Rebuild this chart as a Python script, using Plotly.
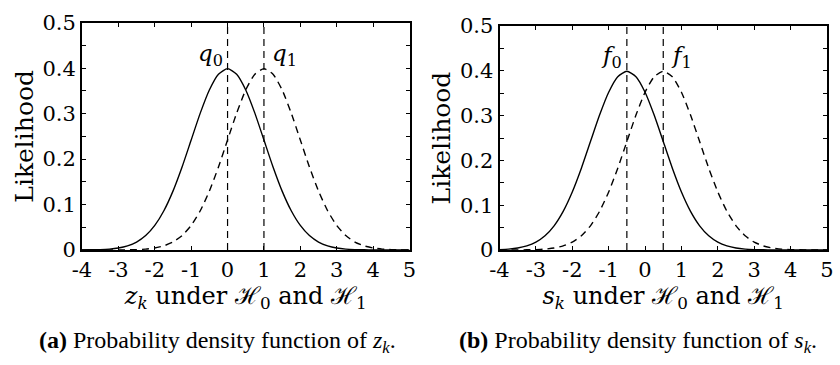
import plotly.graph_objects as go

# ---- data ----
x_grid = [-4.0, -3.75, -3.5, -3.25, -3.0, -2.75, -2.5, -2.25, -2.0, -1.75, -1.5, -1.25,
          -1.0, -0.75, -0.5, -0.25, 0.0, 0.25, 0.5, 0.75, 1.0, 1.25, 1.5, 1.75,
          2.0, 2.25, 2.5, 2.75, 3.0, 3.25, 3.5, 3.75, 4.0, 4.25, 4.5, 4.75, 5.0]

# panel (a): z_k
z_h0 = [0.0001, 0.0004, 0.0009, 0.0020, 0.0044, 0.0091, 0.0175, 0.0317, 0.0540, 0.0863, 0.1295, 0.1826,
        0.2420, 0.3011, 0.3521, 0.3867, 0.3989, 0.3867, 0.3521, 0.3011, 0.2420, 0.1826, 0.1295, 0.0863,
        0.0540, 0.0317, 0.0175, 0.0091, 0.0044, 0.0020, 0.0009, 0.0004, 0.0001, 0.0, 0.0, 0.0, 0.0]
z_h1 = [0.0, 0.0, 0.0, 0.0, 0.0001, 0.0004, 0.0009, 0.0020, 0.0044, 0.0091, 0.0175, 0.0317,
        0.0540, 0.0863, 0.1295, 0.1826, 0.2420, 0.3011, 0.3521, 0.3867, 0.3989, 0.3867, 0.3521, 0.3011,
        0.2420, 0.1826, 0.1295, 0.0863, 0.0540, 0.0317, 0.0175, 0.0091, 0.0044, 0.0020, 0.0009, 0.0004, 0.0001]
q_means = [0.0, 1.0]
q_labels = ["<i>q</i><sub>0</sub>", "<i>q</i><sub>1</sub>"]

# panel (b): s_k
s_h0 = [0.0009, 0.0020, 0.0044, 0.0091, 0.0175, 0.0317, 0.0540, 0.0863, 0.1295, 0.1826, 0.2420, 0.3011,
        0.3521, 0.3867, 0.3989, 0.3867, 0.3521, 0.3011, 0.2420, 0.1826, 0.1295, 0.0863, 0.0540, 0.0317,
        0.0175, 0.0091, 0.0044, 0.0020, 0.0009, 0.0004, 0.0001, 0.0, 0.0, 0.0, 0.0, 0.0, 0.0]
s_h1 = [0.0, 0.0, 0.0001, 0.0004, 0.0009, 0.0020, 0.0044, 0.0091, 0.0175, 0.0317, 0.0540, 0.0863,
        0.1295, 0.1826, 0.2420, 0.3011, 0.3521, 0.3867, 0.3989, 0.3867, 0.3521, 0.3011, 0.2420, 0.1826,
        0.1295, 0.0863, 0.0540, 0.0317, 0.0175, 0.0091, 0.0044, 0.0020, 0.0009, 0.0004, 0.0001, 0.0, 0.0]
f_means = [-0.5, 0.5]
f_labels = ["<i>f</i><sub>0</sub>", "<i>f</i><sub>1</sub>"]

x_ticks = [-4, -3, -2, -1, 0, 1, 2, 3, 4, 5]
x_ticktext = ["-4", "-3", "-2", "-1", "0", "1", "2", "3", "4", "5"]
y_ticks = [0, 0.05, 0.1, 0.15, 0.2, 0.25, 0.3, 0.35, 0.4, 0.45, 0.5]
y_ticktext = ["0", "", "0.1", "", "0.2", "", "0.3", "", "0.4", "", "0.5"]

x_titles = ["<i>z</i><sub><i>k</i></sub> under \u210B<sub>0</sub> and \u210B<sub>1</sub>",
            "<i>s</i><sub><i>k</i></sub> under \u210B<sub>0</sub> and \u210B<sub>1</sub>"]
captions = ["<b>(a)</b> Probability density function of <i>z<sub>k</sub></i>.",
            "<b>(b)</b> Probability density function of <i>s<sub>k</sub></i>."]

# ---- styling ----
W, H = 840, 365
SERIF = "DejaVu Serif"
TICKFONT = dict(family=SERIF, size=21, color="black")
DASH = "7px,5px"
LW = 1.4

fig = go.Figure()

panels = [
    dict(xa="x", ya="y", h0=z_h0, h1=z_h1, means=q_means, labels=q_labels,
         xdom=[82 / W, 409.5 / W], ydom=[1 - 250 / H, 1 - 22.7 / H]),
    dict(xa="x2", ya="y2", h0=s_h0, h1=s_h1, means=f_means, labels=f_labels,
         xdom=[499.5 / W, 827 / W], ydom=[1 - 250 / H, 1 - 26 / H]),
]

annotations = []
for i, p in enumerate(panels):
    fig.add_trace(go.Scatter(x=x_grid, y=p["h0"], mode="lines", xaxis=p["xa"], yaxis=p["ya"],
                             line=dict(color="black", width=LW, shape="spline", smoothing=0.6),
                             showlegend=False, hoverinfo="skip"))
    fig.add_trace(go.Scatter(x=x_grid, y=p["h1"], mode="lines", xaxis=p["xa"], yaxis=p["ya"],
                             line=dict(color="black", width=LW, dash=DASH, shape="spline", smoothing=0.6),
                             showlegend=False, hoverinfo="skip"))
    for m in p["means"]:
        fig.add_trace(go.Scatter(x=[m, m], y=[0, 0.5], mode="lines", xaxis=p["xa"], yaxis=p["ya"],
                                 line=dict(color="black", width=1.2, dash=DASH),
                                 showlegend=False, hoverinfo="skip"))
    # mean labels
    annotations.append(dict(x=p["means"][0], y=0.43, xref=p["xa"], yref=p["ya"], text=p["labels"][0],
                            showarrow=False, xanchor="right", xshift=-3,
                            font=dict(family=SERIF, size=23, color="black")))
    annotations.append(dict(x=p["means"][1], y=0.43, xref=p["xa"], yref=p["ya"], text=p["labels"][1],
                            showarrow=False, xanchor="left", xshift=6,
                            font=dict(family=SERIF, size=23, color="black")))
    # caption
    cx = [217 / W, 638 / W][i]
    annotations.append(dict(x=cx, y=1 - 342 / H, xref="paper", yref="paper", text=captions[i],
                            showarrow=False, xanchor="center", yanchor="middle",
                            font=dict(family="Liberation Serif", size=24, color="black")))

axis_common = dict(showline=True, linecolor="black", linewidth=2, mirror="ticks",
                   ticks="inside", ticklen=4, tickwidth=1, tickcolor="black",
                   showgrid=False, zeroline=False, tickfont=TICKFONT, automargin=False)

layout = dict(template="none", width=W, height=H, margin=dict(l=0, r=0, t=0, b=0, autoexpand=False),
              paper_bgcolor="white", plot_bgcolor="white", annotations=annotations,
              showlegend=False)

for i, p in enumerate(panels):
    sfx = "" if i == 0 else "2"
    layout["xaxis" + sfx] = dict(axis_common, domain=p["xdom"], range=[-4, 5], anchor="y" + sfx,
                                 tickvals=x_ticks, ticktext=x_ticktext,
                                 title=dict(text=x_titles[i], standoff=4,
                                            font=dict(family=SERIF, size=24, color="black")))
    layout["yaxis" + sfx] = dict(axis_common, domain=p["ydom"], range=[0, 0.5], anchor="x" + sfx,
                                 tickvals=y_ticks, ticktext=y_ticktext,
                                 title=dict(text="Likelihood", standoff=2,
                                            font=dict(family=SERIF, size=25, color="black")))

fig.update_layout(**layout)
fig.write_html("out.html", config={"displayModeBar": False},
               post_script="document.body.style.margin='0px';")
